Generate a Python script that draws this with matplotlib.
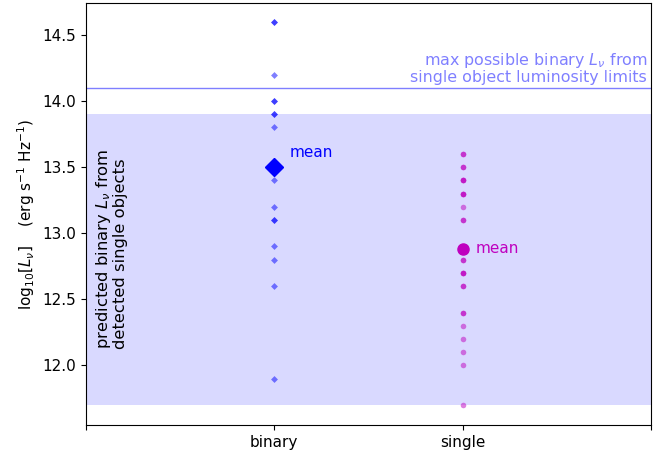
import matplotlib
matplotlib.use("Agg")
import matplotlib.pyplot as plt
import numpy as np

# log10 L_nu values (repeats show as darker points)
binary_vals = [14.6, 14.6, 14.2, 14.0, 14.0, 13.9, 13.9, 13.8, 13.4,
               13.2, 13.1, 13.1, 12.9, 12.8, 12.6, 11.9]
single_vals = [13.6, 13.6, 13.5, 13.5, 13.4, 13.4, 13.4, 13.3, 13.3, 13.3,
               13.2, 13.1, 13.1, 12.8, 12.8, 12.7, 12.7, 12.7, 12.6, 12.6,
               12.4, 12.4, 12.3, 12.2, 12.1, 12.0, 11.7]
categories = ["binary", "single"]
band_lo, band_hi = 11.7, 13.9
max_binary = 14.1


def main():
    fig = plt.figure(figsize=(6.71, 4.55), dpi=100)
    ax = fig.add_axes([0.128, 0.066, 0.842, 0.927])

    ax.axhspan(band_lo, band_hi, color="b", alpha=0.15, lw=0)
    ax.axhline(max_binary, color="b", alpha=0.5, lw=1)

    xb = np.ones(len(binary_vals))
    xs = np.full(len(single_vals), 2.0)
    ax.plot(xb, binary_vals, "D", color="b", alpha=0.5, ms=3.5, mec="none")
    ax.plot(xs, single_vals, "o", color="m", alpha=0.5, ms=4, mec="none")

    mb = np.mean(binary_vals)
    ms_ = np.mean(single_vals)
    ax.plot([1], [mb], "D", color="b", ms=9)
    ax.plot([2], [ms_], "o", color="m", ms=8)
    ax.text(1.08, mb + 0.11, "mean", color="b", fontsize=11, va="center")
    ax.text(2.07, ms_ + 0.01, "mean", color="m", fontsize=11, va="center")

    ax.text(2.98, max_binary + 0.02,
            "max possible binary $L_\\nu$ from\nsingle object luminosity limits",
            color="b", alpha=0.5, fontsize=11.4, ha="right", va="bottom",
            linespacing=1.0)
    ax.text(0.045, 12.88,
            "predicted binary $L_\\nu$ from\ndetected single objects",
            rotation=90, fontsize=11.8, ha="left", va="center", linespacing=1.0)

    ax.set_xlim(0, 3)
    ax.set_ylim(11.55, 14.74)
    ax.set_xticks([0, 1, 2, 3])
    ax.set_xticklabels([""] + categories + [""])
    ax.set_yticks(np.arange(12.0, 14.51, 0.5))
    ax.tick_params(labelsize=11)
    ax.set_ylabel("log$_{10}[L_\\nu]$    (erg s$^{-1}$ Hz$^{-1}$)", fontsize=11)

    fig.savefig("out.png", dpi=100)


if __name__ == "__main__":
    main()
